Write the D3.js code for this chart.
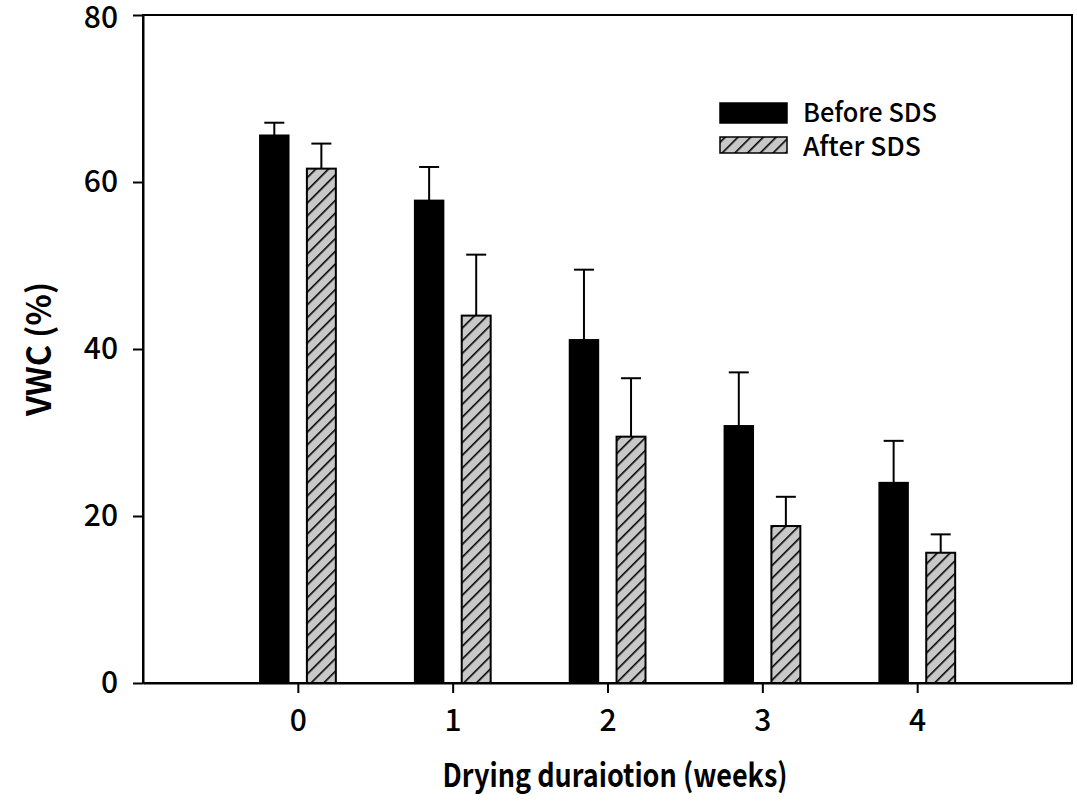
<!DOCTYPE html>
<html>
<head>
<meta charset="utf-8">
<script src="https://cdn.jsdelivr.net/npm/d3@7"></script>
<style>
  body { margin: 0; background: #fff; }
  svg { display: block; font-family: "Noto Sans CJK KR", "Noto Sans", sans-serif; }
</style>
</head>
<body>
<svg id="chart"></svg>
<script>
// Data: VWC before / after SDS by drying duration
const weeks = [0, 1, 2, 3, 4];
const beforeMean = [65.6, 57.8, 41.1, 30.8, 24.0];
const beforeErr = [1.5, 4.0, 8.4, 6.4, 5.0];
const afterMean = [61.6, 44.0, 29.5, 18.8, 15.6];
const afterErr = [3.0, 7.3, 7.0, 3.5, 2.2];
const yTicks = [0, 20, 40, 60, 80];
const seriesNames = ["Before SDS", "After SDS"];

const width = 1077;
const height = 805;
const margin = { top: 15, right: 5, bottom: 122, left: 143 };

const svg = d3.select("#chart")
    .attr("width", width)
    .attr("height", height);

// hatch pattern for "After SDS"
const defs = svg.append("defs");
const pat = defs.append("pattern")
    .attr("id", "hatch")
    .attr("patternUnits", "userSpaceOnUse")
    .attr("width", 9)
    .attr("height", 9)
    .attr("patternTransform", "rotate(45)");
pat.append("rect").attr("width", 9).attr("height", 9).attr("fill", "#c8c8c8");
pat.append("line")
    .attr("x1", 0).attr("y1", 0).attr("x2", 0).attr("y2", 9)
    .attr("stroke", "#000").attr("stroke-width", 3.2);

// Scales
const x = d3.scaleLinear()
    .domain([-1, 5])
    .range([margin.left, width - margin.right]);

const y = d3.scaleLinear()
    .domain([0, 80])
    .range([height - margin.bottom, margin.top]);

const barW = x(0.187) - x(0);
const offset = 0.152;

// Frame
svg.append("rect")
    .attr("x", margin.left)
    .attr("y", margin.top)
    .attr("width", x(5) - margin.left)
    .attr("height", y(0) - margin.top)
    .attr("fill", "none")
    .attr("stroke", "#000")
    .attr("stroke-width", 2);

// Axes
const xAxis = svg.append("g")
    .attr("transform", `translate(0,${y(0)})`)
    .call(d3.axisBottom(x).tickValues(weeks).tickFormat(d3.format("d"))
        .tickSize(10).tickSizeOuter(0).tickPadding(17));

const yAxis = svg.append("g")
    .attr("transform", `translate(${margin.left},0)`)
    .call(d3.axisLeft(y).tickValues(yTicks).tickFormat(d3.format("d"))
        .tickSize(10).tickSizeOuter(0).tickPadding(15));

[xAxis, yAxis].forEach(g => {
    g.select(".domain").attr("stroke-width", 2);
    g.selectAll(".tick line").attr("stroke-width", 2);
    g.selectAll(".tick text")
        .attr("fill", "#000")
        .style("font-size", "30px")
        .style("font-weight", "500")
        .style("font-family", "\"Noto Sans CJK KR\", sans-serif");
});
// keep the top label inside the page
yAxis.selectAll(".tick text").filter(d => d === 80).attr("dy", "0.42em");

// Error bars
function errorBars(means, errs, dx) {
    const g = svg.append("g").attr("stroke", "#000").attr("stroke-width", 2);
    g.selectAll("line.v")
        .data(weeks)
        .enter()
        .append("line")
        .attr("x1", d => x(d + dx))
        .attr("x2", d => x(d + dx))
        .attr("y1", (d, i) => y(means[i]))
        .attr("y2", (d, i) => y(means[i] + errs[i]));
    g.selectAll("line.h")
        .data(weeks)
        .enter()
        .append("line")
        .attr("x1", d => x(d + dx) - 10)
        .attr("x2", d => x(d + dx) + 10)
        .attr("y1", (d, i) => y(means[i] + errs[i]))
        .attr("y2", (d, i) => y(means[i] + errs[i]));
}
errorBars(beforeMean, beforeErr, -offset);
errorBars(afterMean, afterErr, offset);

// Bars
svg.selectAll(".bar-before")
    .data(weeks)
    .enter()
    .append("rect")
    .attr("class", "bar-before")
    .attr("x", d => x(d - offset) - barW / 2)
    .attr("y", (d, i) => y(beforeMean[i]))
    .attr("width", barW)
    .attr("height", (d, i) => y(0) - y(beforeMean[i]))
    .attr("fill", "#000")
    .attr("stroke", "#000")
    .attr("stroke-width", 1.5);

svg.selectAll(".bar-after")
    .data(weeks)
    .enter()
    .append("rect")
    .attr("class", "bar-after")
    .attr("x", d => x(d + offset) - barW / 2)
    .attr("y", (d, i) => y(afterMean[i]))
    .attr("width", barW)
    .attr("height", (d, i) => y(0) - y(afterMean[i]))
    .attr("fill", "url(#hatch)")
    .attr("stroke", "#000")
    .attr("stroke-width", 2);

// Legend
const legend = svg.append("g").attr("transform", "translate(720,103)");
const fills = ["#000", "url(#hatch)"];
seriesNames.forEach((name, i) => {
    legend.append("rect")
        .attr("x", 0)
        .attr("y", i * 34)
        .attr("width", 67)
        .attr("height", i === 0 ? 20 : 16)
        .attr("fill", fills[i])
        .attr("stroke", "#000")
        .attr("stroke-width", 1.5);
    legend.append("text")
        .attr("x", 83)
        .attr("y", i * 34 + 19)
        .attr("textLength", i === 0 ? 134 : 118)
        .attr("lengthAdjust", "spacingAndGlyphs")
        .style("font-size", "26px")
        .style("font-weight", "500")
        .attr("fill", "#000")
        .text(name);
});

// Axis titles
svg.append("text")
    .attr("x", 615)
    .attr("y", 787)
    .attr("text-anchor", "middle")
    .attr("textLength", 345)
    .attr("lengthAdjust", "spacingAndGlyphs")
    .style("font-size", "32px")
    .style("font-weight", "bold")
    .text("Drying duraiotion (weeks)");

svg.append("text")
    .attr("transform", `translate(51,${(margin.top + y(0)) / 2}) rotate(-90)`)
    .attr("text-anchor", "middle")
    .attr("textLength", 134)
    .attr("lengthAdjust", "spacingAndGlyphs")
    .style("font-size", "33px")
    .style("font-weight", "bold")
    .text("VWC (%)");
</script>
</body>
</html>
